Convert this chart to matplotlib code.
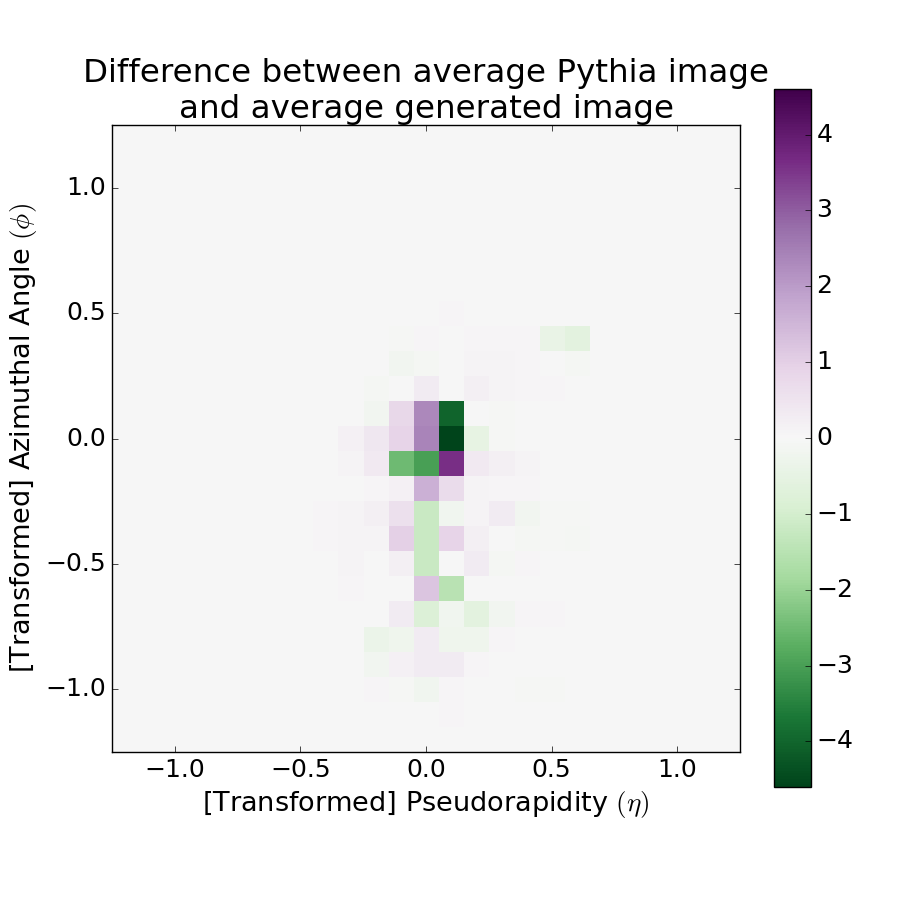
import numpy as np
import matplotlib
matplotlib.use('Agg')
import matplotlib.pyplot as plt

plt.style.use('classic')

# pixel grid: 25 x 25 cells of width 0.1 from -1.25 to 1.25
n_pix = 25
extent = [-1.25, 1.25, -1.25, 1.25]

# difference values of the non-empty region
# rows run from phi = 0.5 (top) down to phi = -1.1
# columns run from eta = -0.7 up to eta = 1.0
row_start = 7   # grid row of phi = 0.5
col_start = 5   # grid column of eta = -0.7
diff_rows = [
    # eta: -.7   -.6   -.5   -.4   -.3   -.2   -.1   0.0   0.1   0.2   0.3   0.4   0.5   0.6   0.7   0.8   0.9   1.0
    [0.00, 0.00, 0.00, 0.00, 0.00, 0.00, 0.00, 0.00, 0.05, 0.00, 0.00, 0.00, 0.00, 0.00, 0.00, 0.00, 0.00, 0.00],
    [0.00, 0.00, 0.00, 0.00, 0.00, 0.00, -0.05, 0.05, 0.00, 0.05, 0.05, 0.05, -0.40, -0.60, 0.00, 0.00, 0.00, 0.00],
    [0.00, 0.00, 0.00, 0.00, 0.00, 0.00, -0.15, -0.10, 0.00, 0.10, 0.10, 0.05, 0.00, -0.10, 0.00, 0.00, 0.00, -0.02],
    [0.00, 0.00, 0.00, -0.02, -0.02, -0.10, 0.02, 0.30, 0.00, 0.20, 0.10, 0.05, 0.05, 0.00, 0.00, 0.00, 0.00, 0.00],
    [0.00, 0.00, -0.02, -0.02, -0.03, -0.15, 0.80, 2.30, -4.00, 0.02, -0.05, -0.03, 0.03, 0.00, 0.00, 0.00, -0.02, -0.02],
    [0.00, 0.00, -0.02, 0.00, 0.15, 0.40, 0.90, 2.40, -4.60, -0.50, -0.05, -0.03, 0.00, 0.00, 0.00, 0.00, 0.00, 0.00],
    [0.00, 0.00, -0.03, 0.00, 0.10, 0.35, -2.50, -3.00, 3.60, 0.35, 0.20, 0.10, 0.00, 0.00, 0.00, 0.00, 0.00, 0.00],
    [0.00, 0.00, -0.03, 0.00, 0.03, 0.05, 0.15, 1.60, 0.70, 0.10, 0.05, 0.05, 0.00, 0.00, 0.00, 0.00, 0.00, 0.00],
    [0.00, 0.00, 0.03, 0.05, 0.10, 0.20, 0.60, -1.20, -0.20, 0.10, 0.30, -0.15, -0.05, -0.05, 0.00, 0.00, 0.00, 0.00],
    [-0.03, 0.00, 0.00, 0.05, 0.10, 0.10, 1.00, -1.20, 0.90, 0.20, 0.02, -0.10, -0.05, -0.10, 0.00, 0.00, 0.00, 0.00],
    [0.00, 0.00, 0.00, 0.00, 0.10, 0.02, 0.20, -1.20, 0.02, 0.30, -0.10, 0.05, 0.00, 0.00, 0.00, 0.00, 0.00, 0.00],
    [0.00, 0.00, 0.00, 0.00, 0.05, 0.02, 0.02, 1.20, -1.50, 0.02, 0.03, 0.00, 0.00, 0.00, 0.00, 0.00, 0.00, 0.00],
    [0.00, 0.00, 0.00, 0.00, 0.00, 0.00, 0.30, -0.80, -0.20, -0.60, -0.15, 0.05, 0.05, 0.00, 0.00, 0.00, 0.00, 0.00],
    [0.00, 0.00, 0.00, 0.00, 0.00, -0.35, -0.25, 0.30, -0.25, -0.25, 0.05, 0.00, 0.00, 0.00, 0.00, 0.00, 0.00, 0.00],
    [0.00, 0.00, 0.00, 0.00, 0.00, -0.15, 0.15, 0.30, 0.30, 0.05, 0.00, 0.00, 0.00, 0.00, 0.00, 0.00, 0.00, 0.00],
    [0.00, 0.00, 0.00, 0.00, 0.00, 0.05, -0.05, -0.20, 0.05, 0.00, 0.00, -0.05, -0.05, 0.00, 0.00, 0.00, 0.00, 0.00],
    [0.00, 0.00, 0.00, 0.00, 0.00, 0.00, 0.00, 0.00, 0.05, 0.00, 0.00, 0.00, 0.00, 0.00, 0.00, 0.00, 0.00, 0.00],
]

tick_vals = [-1.0, -0.5, 0.0, 0.5, 1.0]
cbar_ticks = [-4, -3, -2, -1, 0, 1, 2, 3, 4]

# build full image
image = np.zeros((n_pix, n_pix))
block = np.array(diff_rows)
image[row_start:row_start + block.shape[0], col_start:col_start + block.shape[1]] = block
vmax = np.abs(image).max()

fig = plt.figure(figsize=(9, 9), dpi=100, facecolor='white')
ax = fig.add_axes([112 / 900, 148 / 900, 628 / 900, 627 / 900])
cax = fig.add_axes([774 / 900, 113 / 900, 37 / 900, 698 / 900])

im = ax.imshow(image, extent=extent, origin='upper', cmap='PRGn_r',
               vmin=-vmax, vmax=vmax, interpolation='nearest', aspect='auto')
ax.set_xlim(-1.25, 1.25)
ax.set_ylim(-1.25, 1.25)
ax.set_xticks(tick_vals)
ax.set_yticks(tick_vals)
ax.tick_params(labelsize=18)
ax.set_xlabel(r'[Transformed] Pseudorapidity $(\eta)$', fontsize=19.5)
ax.set_ylabel(r'[Transformed] Azimuthal Angle $(\phi)$', fontsize=19.5)
ax.set_title('Difference between average Pythia image\nand average generated image',
             fontsize=23.4)

cb = fig.colorbar(im, cax=cax, ticks=cbar_ticks)
cb.ax.tick_params(labelsize=18)

fig.savefig('out.png', dpi=100, facecolor='white')
